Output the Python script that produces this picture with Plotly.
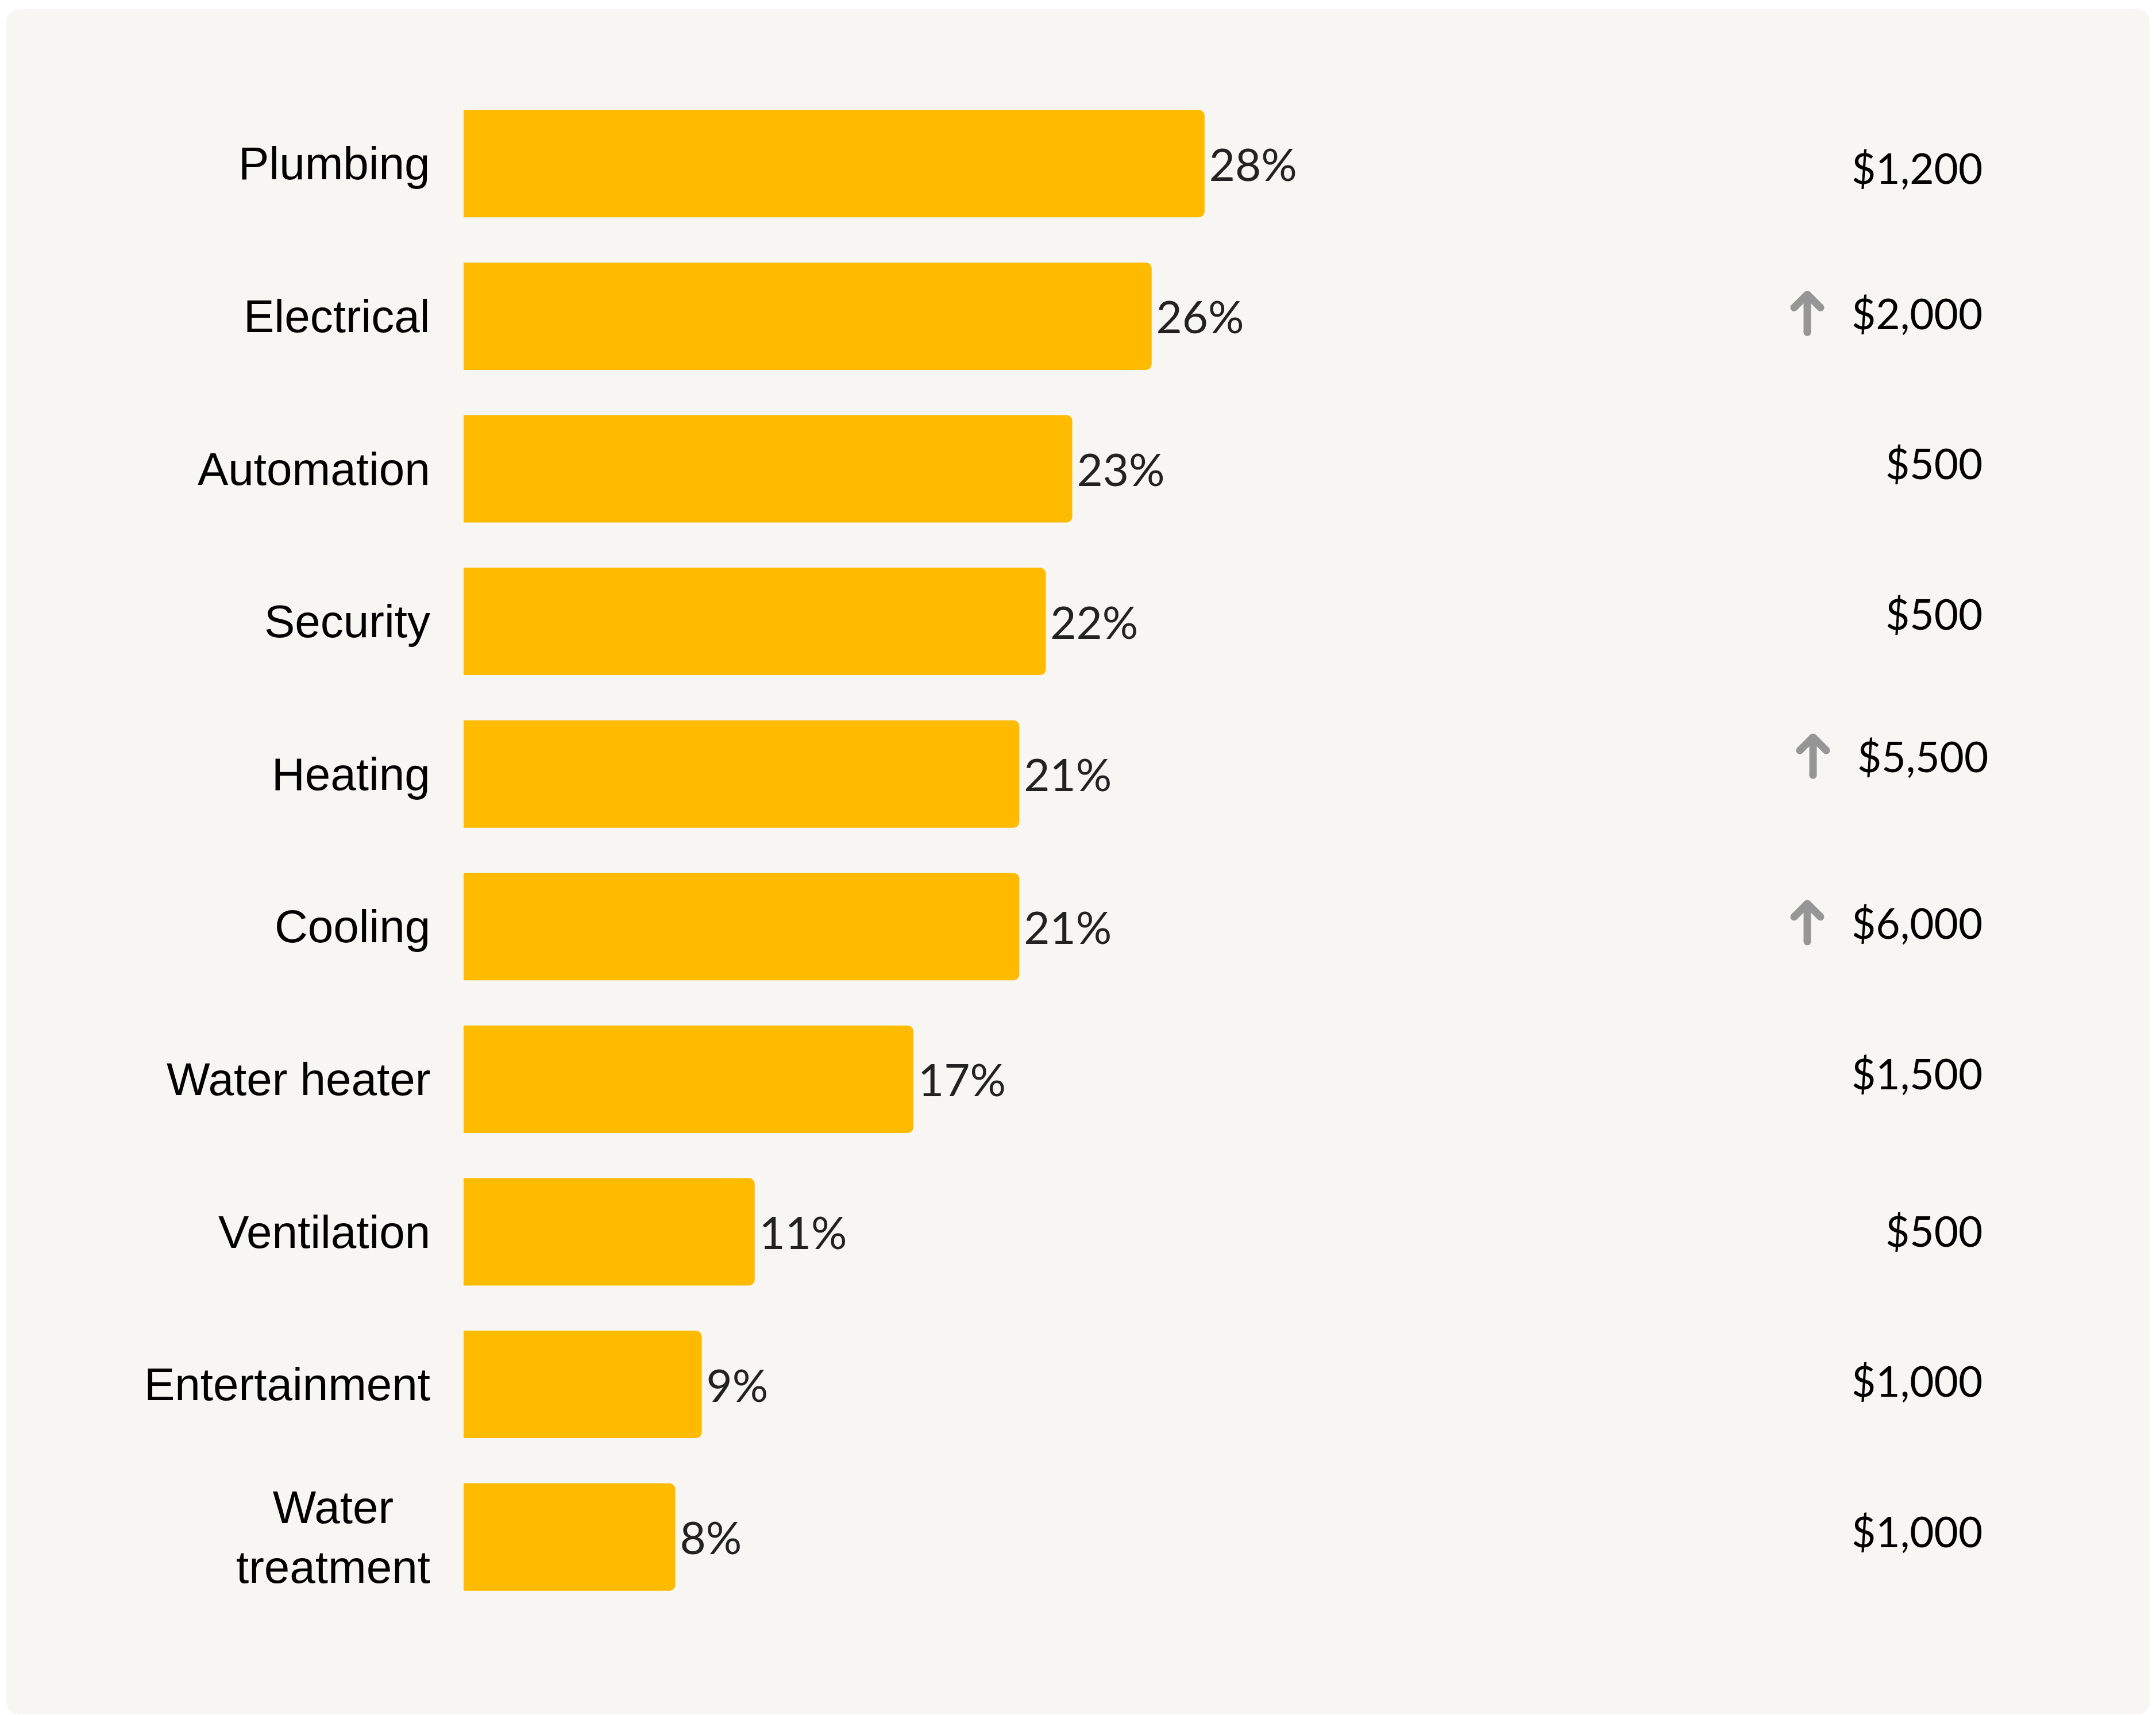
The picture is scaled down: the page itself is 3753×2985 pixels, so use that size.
import plotly.graph_objects as go

categories = ["Plumbing", "Electrical", "Automation", "Security", "Heating",
              "Cooling", "Water heater", "Ventilation", "Entertainment",
              "Water<br>treatment"]
share_pct = [28, 26, 23, 22, 21, 21, 17, 11, 9, 8]
avg_cost = [1200, 2000, 500, 500, 5500, 6000, 1500, 500, 1000, 1000]
cost_up = [False, True, False, False, True, True, False, False, False, False]

# small placement nudges of the cost column (px), as in the original artwork
cost_dy = [-7, 5, 10, 14, 31, 7, 10, 2, 7, 10]
cost_dx = [0, 0, 0, 0, 10, 0, 0, 0, 0, 0]

W, H = 3753, 2985
ML, MR, MT, MB = 807, 182, 152, 177
PW, PH = W - ML - MR, H - MT - MB
ROW = PH / len(categories)

BAR = "#FFBB00"
CARD = "#F7F6F2"
ARROW = "#969696"


def px_x(p):
    return (p - ML) / PW


def px_y(p):
    return 1 - (p - MT) / PH


fig = go.Figure()
fig.add_trace(go.Bar(
    y=categories,
    x=share_pct,
    orientation="h",
    width=0.704,
    marker=dict(color=BAR, cornerradius=10, line_width=0),
    text=[f"\u200a{v}%" for v in share_pct],
    textposition="outside",
    constraintext="none",
    cliponaxis=False,
    textfont=dict(family="Lato", size=78, color="#222222"),
    hoverinfo="skip",
))

# background card with rounded corners
x0, x1 = px_x(11), px_x(3742)
y0, y1 = px_y(16), px_y(2984)
rx, ry = 25 / PW, 25 / PH
card_path = (f"M{x0 + rx},{y0} L{x1 - rx},{y0} Q{x1},{y0} {x1},{y0 - ry} "
             f"L{x1},{y1 + ry} Q{x1},{y1} {x1 - rx},{y1} "
             f"L{x0 + rx},{y1} Q{x0},{y1} {x0},{y1 + ry} "
             f"L{x0},{y0 - ry} Q{x0},{y0} {x0 + rx},{y0} Z")
shapes = [dict(type="path", xref="paper", yref="paper", path=card_path,
               fillcolor=CARD, line_width=0, layer="below")]

annotations = []
cost_x = px_x(3453)
arrow_cx = px_x(3146)
ux, uy = 1 / PW, 1 / ROW
for i, (cat, cost, up) in enumerate(zip(categories, avg_cost, cost_up)):
    annotations.append(dict(
        x=0, xref="paper", y=cat, yref="y", text=cat, showarrow=False,
        xanchor="right", xshift=-56, align="center",
        font=dict(family="Liberation Sans", size=80, color="#000000"),
    ))
    annotations.append(dict(
        x=cost_x, xref="paper", y=cat, yref="y", text=f"${cost:,}",
        showarrow=False, xanchor="right", xshift=cost_dx[i], yshift=cost_dy[i],
        font=dict(family="Lato", size=73, color="#000000"),
    ))
    if up:
        cx = arrow_cx + cost_dx[i] * ux
        cy = i - cost_dy[i] * uy
        tip = (cx, cy - 33 * uy)
        bot = (cx, cy + 33 * uy)
        left = (cx - 23 * ux, cy - 10 * uy)
        right = (cx + 23 * ux, cy - 10 * uy)
        for a, b in [(tip, bot), (tip, left), (tip, right)]:
            shapes.append(dict(type="line", xref="paper", yref="y",
                               x0=a[0], y0=a[1], x1=b[0], y1=b[1],
                               line=dict(color=ARROW, width=13)))
        r_x, r_y = 6.5 * ux, 6.5 * uy
        for p in [tip, bot, left, right]:
            shapes.append(dict(type="circle", xref="paper", yref="y",
                               x0=p[0] - r_x, x1=p[0] + r_x,
                               y0=p[1] - r_y, y1=p[1] + r_y,
                               fillcolor=ARROW, line_width=0))

fig.update_layout(
    width=W, height=H,
    margin=dict(l=ML, r=MR, t=MT, b=MB, pad=0),
    paper_bgcolor="#FFFFFF",
    plot_bgcolor="rgba(0,0,0,0)",
    showlegend=False,
    shapes=shapes,
    annotations=annotations,
    xaxis=dict(range=[0, 60], visible=False, fixedrange=True),
    yaxis=dict(type="category", categoryorder="array", categoryarray=categories,
               range=[len(categories) - 0.5, -0.5], showticklabels=False,
               showgrid=False, zeroline=False, showline=False, ticks="",
               fixedrange=True),
)

fig.write_html("out.html", config={"displayModeBar": False},
               post_script="document.body.style.margin='0px';")
